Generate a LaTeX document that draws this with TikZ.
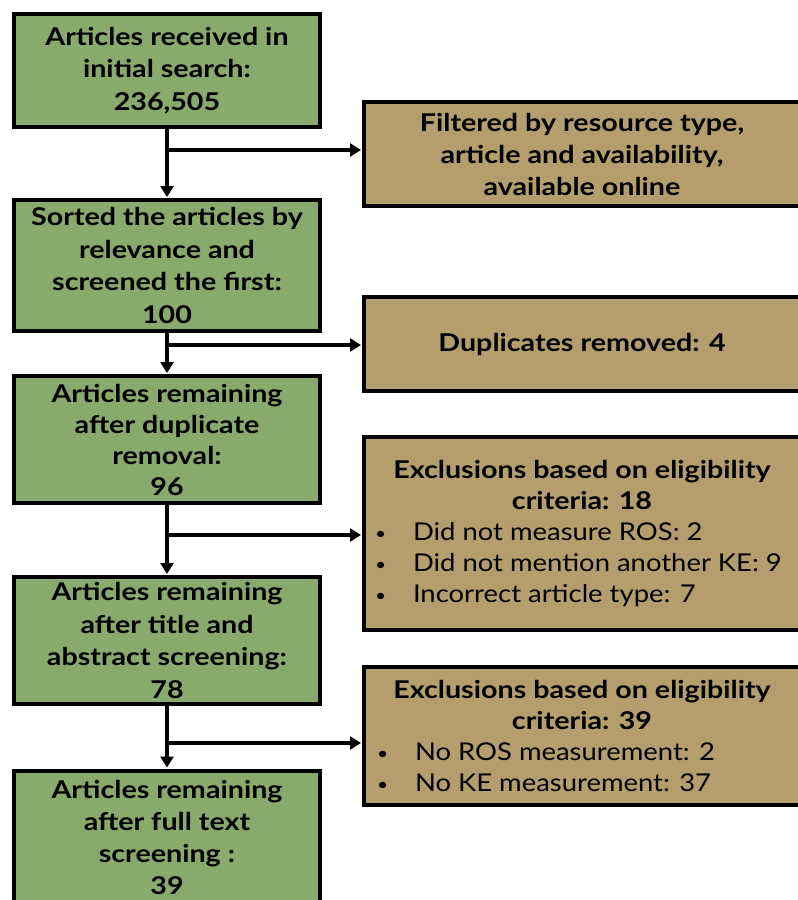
\documentclass[tikz,border=0pt]{standalone}
\usepackage{fontspec}
\setmainfont{Lato}[UprightFeatures={FakeStretch=1.12}, BoldFeatures={FakeStretch=1.17}]
\usetikzlibrary{arrows.meta}
\definecolor{boxgreen}{RGB}{136,170,108}
\definecolor{boxtan}{RGB}{180,158,110}
\newcommand{\bul}{\makebox[38pt][l]{\fontsize{17}{17}\selectfont\raisebox{1pt}{•}}}
\begin{document}
\begin{tikzpicture}[x=1pt,y=-1pt,
  gbox/.style={draw=black, line width=4pt, fill=boxgreen, minimum width=306pt, align=center, inner sep=0pt,
    font=\fontsize{24.5}{32.5}\selectfont\bfseries},
  tbox/.style={draw=black, line width=4pt, fill=boxtan, minimum width=436pt, align=center, inner sep=0pt,
    font=\fontsize{24.5}{32}\selectfont\bfseries},
  arr/.style={line width=3.5pt, -{Triangle[length=11pt,width=13pt]}, shorten >=1pt}]
\useasboundingbox (0,0) rectangle (798,900);

\node[gbox, minimum height=113pt] (g1) at (167,70.5) {Articles received in\\initial search:\\236,505};
\node[gbox, minimum height=131pt] (g2) at (167,265.5) {Sorted the articles by\\relevance and\\screened the first:\\100};
\node[gbox, minimum height=127pt, font=\fontsize{24.5}{31}\selectfont\bfseries] (g3) at (167,439.5) {Articles remaining\\after duplicate\\removal:\\96};
\node[gbox, minimum height=127pt] (g4) at (167,640.5) {Articles remaining\\after title and\\abstract screening:\\78};
\node[gbox, minimum height=133pt, font=\fontsize{24.5}{32}\selectfont\bfseries] (g5) at (167,837) {Articles remaining\\after full text\\screening :\\39};

\node[tbox, minimum height=104pt] (t1) at (582,154) {Filtered by resource type,\\article and availability,\\available online};
\node[tbox, minimum height=94pt] (t2) at (582,344) {Duplicates removed: 4};
\node[tbox, minimum height=193pt] (t3) at (582,533.5) {\begin{minipage}{420pt}\fontsize{24.5}{31}\selectfont
  \centering\bfseries Exclusions based on eligibility\\criteria: 18\par
  \raggedright\mdseries
  \hspace*{3pt}\bul Did not measure ROS: 2\\
  \hspace*{3pt}\bul Did not mention another KE: 9\\
  \hspace*{3pt}\bul Incorrect article type: 7\par
  \end{minipage}};
\node[tbox, minimum height=138pt] (t4) at (582,736) {\begin{minipage}{420pt}\fontsize{24.5}{31}\selectfont
  \centering\bfseries Exclusions based on eligibility\\criteria: 39\par
  \raggedright\mdseries
  \hspace*{5pt}\bul No ROS measurement: 2\\
  \hspace*{5pt}\bul No KE measurement: 37\par
  \end{minipage}};

\coordinate (b1) at (167,150);
\coordinate (b2) at (167,345);
\coordinate (b3) at (167,535);
\coordinate (b4) at (167,743);

\draw[arr] (g1.south) -- (g2.north);
\draw[arr] (g2.south) -- (g3.north);
\draw[arr] (g3.south) -- (g4.north);
\draw[arr] (g4.south) -- (g5.north);
\draw[arr] (b1) -- (b1 -| t1.west);
\draw[arr] (b2) -- (b2 -| t2.west);
\draw[arr] (b3) -- (b3 -| t3.west);
\draw[arr] (b4) -- (b4 -| t4.west);
\end{tikzpicture}
\end{document}
